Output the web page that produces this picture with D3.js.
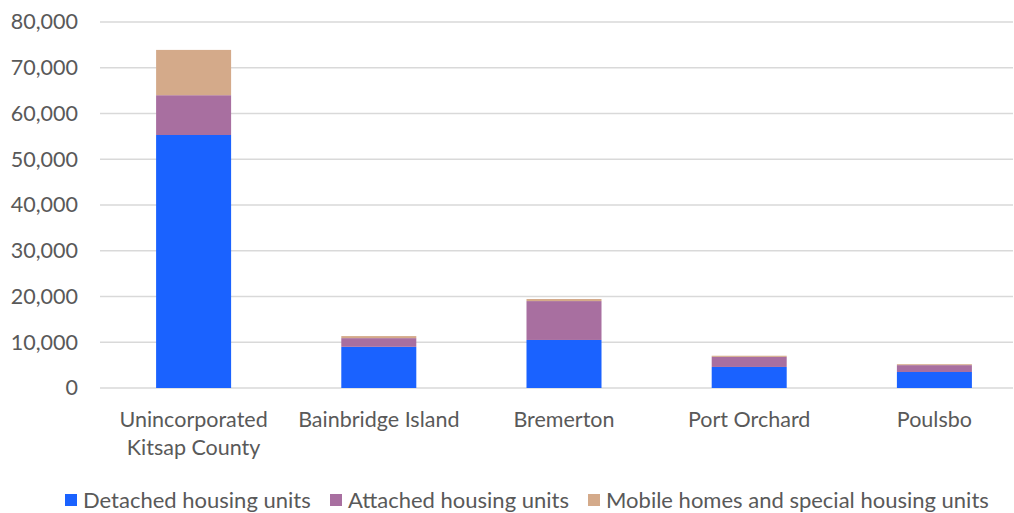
<!DOCTYPE html>
<html><head><meta charset="utf-8">
<script src="https://cdn.jsdelivr.net/npm/d3@7"></script>
<style>html,body{margin:0;padding:0;background:#fff;}svg{display:block;}</style>
</head><body>
<svg id="chart" width="1014" height="513"></svg>
<script>
const categories = [["Unincorporated","Kitsap County"],["Bainbridge Island"],["Bremerton"],["Port Orchard"],["Poulsbo"]];
const seriesNames = ["Detached housing units","Attached housing units","Mobile homes and special housing units"];
const detached = [55300, 9000, 10500, 4600, 3500];
const attached = [8700, 1900, 8500, 2200, 1500];
const mobile   = [9900, 450, 450, 250, 200];
const yTicks = [0,10000,20000,30000,40000,50000,60000,70000,80000];
const colors = ["#1a62ff","#a86fa0","#d4aa8a"];

const font = "Lato, 'Open Sans', sans-serif";
const fs = 21.5;
const txt = "#595959";
const svg = d3.select("#chart");
const keys = categories.map(c => c.join(" "));
const rows = keys.map((k,i)=>({key:k, s0:detached[i], s1:attached[i], s2:mobile[i]}));
const stack = d3.stack().keys(["s0","s1","s2"])(rows);

const x = d3.scaleBand().domain(keys).range([101,1027]).paddingInner(0.595).paddingOuter(0.2975);
const y = d3.scaleLinear().domain([0,80000]).range([388,22]);

// gridlines
svg.append("g").selectAll("line").data(yTicks).join("line")
  .attr("x1",100).attr("x2",1013)
  .attr("y1",d=>y(d)).attr("y2",d=>y(d))
  .attr("stroke","#d9d9d9").attr("stroke-width",1.3);

// y axis labels
const yAxis = d3.axisLeft(y).tickValues(yTicks).tickFormat(d3.format(",")).tickSize(0).tickPadding(0);
const ga = svg.append("g").attr("transform","translate(78,0)").call(yAxis);
ga.select(".domain").remove();
ga.selectAll("text").attr("font-family",font).attr("font-size",fs).attr("fill",txt);

// bars
svg.append("g").selectAll("g").data(stack).join("g")
  .attr("fill",(d,i)=>colors[i])
  .selectAll("rect").data(d=>d).join("rect")
  .attr("x",d=>x(d.data.key)).attr("width",x.bandwidth())
  .attr("y",d=>y(d[1])).attr("height",d=>y(d[0])-y(d[1]));

// x labels
const xl = svg.append("g").selectAll("text").data(categories).join("text")
  .attr("font-family",font).attr("font-size",fs).attr("fill",txt)
  .attr("text-anchor","middle")
  .attr("x",(d,i)=>x(keys[i])+x.bandwidth()/2).attr("y",427);
xl.selectAll("tspan").data(d=>d).join("tspan")
  .attr("x",function(){return this.parentNode.getAttribute("x");})
  .attr("dy",(d,i)=>i===0?0:28).text(d=>d);

// legend
const legendX = [65, 330, 588];
const lg = svg.append("g").selectAll("g").data(seriesNames).join("g")
  .attr("transform",(d,i)=>`translate(${legendX[i]},494)`);
lg.append("rect").attr("width",12).attr("height",12).attr("fill",(d,i)=>colors[i]);
lg.append("text").attr("x",18).attr("y",14).attr("font-family",font).attr("font-size",22)
  .attr("fill",txt).text(d=>d);
</script>
</body></html>
